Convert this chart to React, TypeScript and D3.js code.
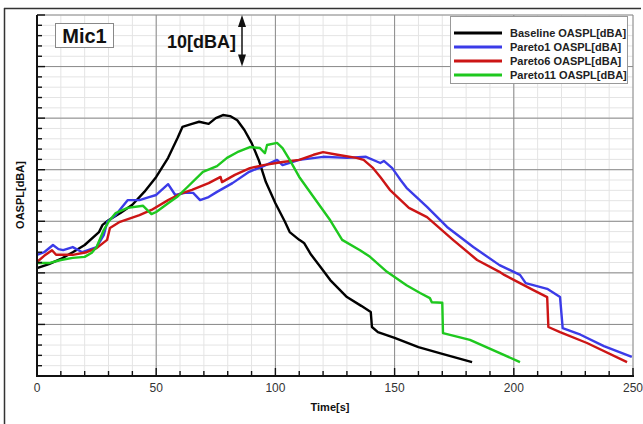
import React from "react";
import * as d3 from "d3";

type P = [number, number];

const baseline: P[] = [
  [0, 50.9], [5, 51.7], [10, 52.7], [15, 54.0], [20, 55.4], [26, 57.9], [27.5, 59.3], [30, 60.2],
  [35, 61.6], [40, 63.2], [45, 65.7], [50, 68.6], [55, 72.3], [59, 76.2], [61, 78.3], [65, 78.9],
  [68, 79.3], [72, 78.9], [75, 80.0], [78, 80.6], [81, 80.4], [84, 79.6], [87, 77.7], [90, 75.2],
  [93, 71.9], [96, 67.6], [100, 63.5], [104, 59.9], [106, 57.9], [110, 56.4], [112, 55.8], [115, 53.5],
  [119, 51.1], [123, 48.6], [130, 45.3], [136, 43.6], [140, 42.4], [140.5, 39.5], [143, 38.5],
  [150, 37.4], [160, 35.6], [170, 34.3], [182.5, 32.7],
];

const pareto1: P[] = [
  [0, 53.5], [3, 54.0], [6.7, 55.4], [9, 54.6], [11, 54.4], [15, 55.0], [19, 54.0], [25, 55.0],
  [28, 57.3], [29.5, 59.9], [33, 61.2], [38, 64.1], [43, 64.1], [47, 64.7], [50, 65.1], [55, 67.2],
  [58, 65.1], [62, 65.5], [65.5, 65.5], [68.4, 64.1], [72, 64.7], [75.5, 65.7], [82, 67.4], [89, 69.6],
  [95, 70.7], [100.7, 71.9], [103, 70.9], [110, 71.9], [120, 72.5], [130, 72.3], [138, 72.5],
  [144, 71.3], [145.5, 71.7], [149, 70.3], [151, 69.0], [152.5, 68.0], [155, 66.5], [163.6, 62.8],
  [172, 58.9], [183, 55.0], [194, 51.5], [202.6, 49.6], [205, 48.0], [214, 46.9], [219.4, 45.3],
  [220.5, 39.3], [228, 38.0], [237.8, 35.8], [249.5, 33.7],
];

const pareto6: P[] = [
  [0, 52.1], [3, 53.3], [6.3, 54.4], [8, 53.5], [10, 53.5], [15, 53.5], [20.8, 54.0], [25, 54.8],
  [29.4, 56.4], [30.6, 58.7], [34.8, 59.9], [43, 61.2], [48, 62.2], [55, 64.1], [60, 65.3], [65, 66.1],
  [72, 67.4], [77, 68.6], [77.6, 67.6], [83, 69.0], [89.3, 70.3], [95, 70.9], [103, 71.5], [110, 71.9],
  [116, 72.9], [120, 73.4], [126, 72.9], [134, 72.3], [137, 71.9], [141, 70.3], [144, 68.6], [148, 66.1],
  [156, 62.6], [163.6, 60.8], [174.5, 56.4], [184.6, 52.5], [194, 50.2], [196, 49.6], [202.6, 48.0],
  [208, 46.7], [214, 45.3], [214.5, 39.5], [219.4, 38.5], [230.7, 36.4], [247.5, 32.7],
];

const pareto11: P[] = [
  [0, 51.9], [5, 51.9], [10, 52.5], [15, 52.9], [20, 53.1], [23, 53.9], [25, 55.0], [28, 58.3],
  [30, 59.9], [33, 61.6], [38, 62.6], [44.5, 63.0], [48, 61.4], [50, 61.8], [55, 63.5], [58.7, 64.7],
  [63, 66.6], [69.6, 69.6], [75.5, 70.7], [79.7, 72.3], [84, 73.4], [89.3, 74.4], [93.5, 74.2],
  [95.6, 73.2], [96.5, 74.8], [100.7, 75.2], [103, 74.2], [106, 71.9], [110, 68.6], [116, 64.7],
  [123, 60.2], [128, 56.4], [135.5, 54.4], [139.7, 53.1], [146.8, 50.2], [155, 47.6], [160.7, 46.1],
  [164.8, 45.1], [165.6, 44.3], [170, 44.2], [170.3, 38.3], [181.6, 37.0], [202.6, 32.7],
];

const seriesNames = ["Baseline OASPL[dBA]", "Pareto1 OASPL[dBA]", "Pareto6 OASPL[dBA]", "Pareto11 OASPL[dBA]"];
const seriesColors = ["#000000", "#3b3be8", "#cc1515", "#1ec81e"];
const seriesData = [baseline, pareto1, pareto6, pareto11];

const xTicks = [0, 50, 100, 150, 200, 250];
const xMinor = d3.range(0, 251, 10);
const yMajor = d3.range(30, 101, 10);
const yMinor = d3.range(30, 101, 2);

const W = 643;
const H = 424;
const L = 37, R = 633, T = 15, B = 376;

export default function App() {
  const x = d3.scaleLinear().domain([0, 250]).range([L, R]);
  const y = d3.scaleLinear().domain([30, 100]).range([B, T]);
  const line = d3.line<P>().x((d) => x(d[0])).y((d) => y(d[1]));
  const font = "'Liberation Sans', Arial, sans-serif";
  const arrowX = 242;
  return (
    <svg width={W} height={H} style={{ position: "absolute", left: 0, top: 0, background: "#fff" }} fontFamily={font}>
      <rect x={0} y={0} width={W} height={H} fill="#fff" />
      {/* outer frame */}
      <line x1={4.5} y1={8} x2={4.5} y2={H} stroke="#333" strokeWidth={1.5} />
      <line x1={4} y1={8.5} x2={641} y2={8.5} stroke="#333" strokeWidth={1.5} />
      {/* minor grid */}
      {xMinor.map((t) => (
        <line key={"xm" + t} x1={x(t)} x2={x(t)} y1={T} y2={B} stroke="#e4e4e4" strokeWidth={1} />
      ))}
      {yMinor.map((v) => (
        <line key={"ym" + v} x1={L} x2={R} y1={y(v)} y2={y(v)} stroke="#e4e4e4" strokeWidth={1} />
      ))}
      {/* major grid */}
      {xTicks.map((t) => (
        <line key={"xM" + t} x1={x(t)} x2={x(t)} y1={T} y2={B} stroke="#8a8a8a" strokeWidth={1} />
      ))}
      {yMajor.map((v) => (
        <line key={"yM" + v} x1={L} x2={R} y1={y(v)} y2={y(v)} stroke="#8a8a8a" strokeWidth={1} />
      ))}
      {/* series */}
      {seriesData.map((d, i) => (
        <path key={i} d={line(d) || ""} fill="none" stroke={seriesColors[i]} strokeWidth={2.4} strokeLinejoin="round" />
      ))}
      {/* axes */}
      <line x1={L} x2={L} y1={T} y2={B + 1} stroke="#111" strokeWidth={2} />
      <line x1={L - 1} x2={R + 1} y1={B} y2={B} stroke="#111" strokeWidth={2} />
      {yMinor.map((v) => (
        <line key={"yt" + v} x1={L} x2={L + (v % 10 === 0 ? 8 : 5)} y1={y(v)} y2={y(v)} stroke="#111" strokeWidth={1.4} />
      ))}
      {xMinor.map((t) => (
        <line key={"xt" + t} x1={x(t)} x2={x(t)} y1={B} y2={B - (t % 50 === 0 ? 8 : 5)} stroke="#111" strokeWidth={1.4} />
      ))}
      {xTicks.map((t) => (
        <text key={"xl" + t} x={x(t)} y={392} fontSize={12} textAnchor="middle" fill="#333">
          {t}
        </text>
      ))}
      <text x={330} y={411} fontSize={11} fontWeight="bold" textAnchor="middle" fill="#111">
        Time[s]
      </text>
      <text transform={`translate(24,195) rotate(-90)`} fontSize={11} fontWeight="bold" textAnchor="middle" fill="#111">
        OASPL[dBA]
      </text>
      {/* Mic1 box */}
      <rect x={55.5} y={23.5} width={58} height={24} fill="#fff" stroke="#888" strokeWidth={1} />
      <text x={84.5} y={43} fontSize={20} fontWeight="bold" textAnchor="middle" fill="#111">
        Mic1
      </text>
      {/* 10 dBA arrow */}
      <text x={167} y={48} fontSize={18} fontWeight="bold" fill="#111">
        10[dBA]
      </text>
      <line x1={arrowX} x2={arrowX} y1={y(100) + 8} y2={y(90) - 8} stroke="#111" strokeWidth={1.5} />
      <path d={`M${arrowX},${y(100)} L${arrowX - 4},${y(100) + 12} L${arrowX + 4},${y(100) + 12} Z`} fill="#111" />
      <path d={`M${arrowX},${y(90)} L${arrowX - 4},${y(90) - 12} L${arrowX + 4},${y(90) - 12} Z`} fill="#111" />
      {/* legend */}
      <rect x={450.5} y={16.5} width={177} height={67} fill="#fff" stroke="#999" strokeWidth={1} />
      {seriesNames.map((n, i) => (
        <g key={n}>
          <line x1={454} x2={502} y1={33 + i * 14} y2={33 + i * 14} stroke={seriesColors[i]} strokeWidth={3} />
          <text x={510} y={37 + i * 14} fontSize={11} fontWeight="bold" fill="#222">
            {n}
          </text>
        </g>
      ))}
    </svg>
  );
}
